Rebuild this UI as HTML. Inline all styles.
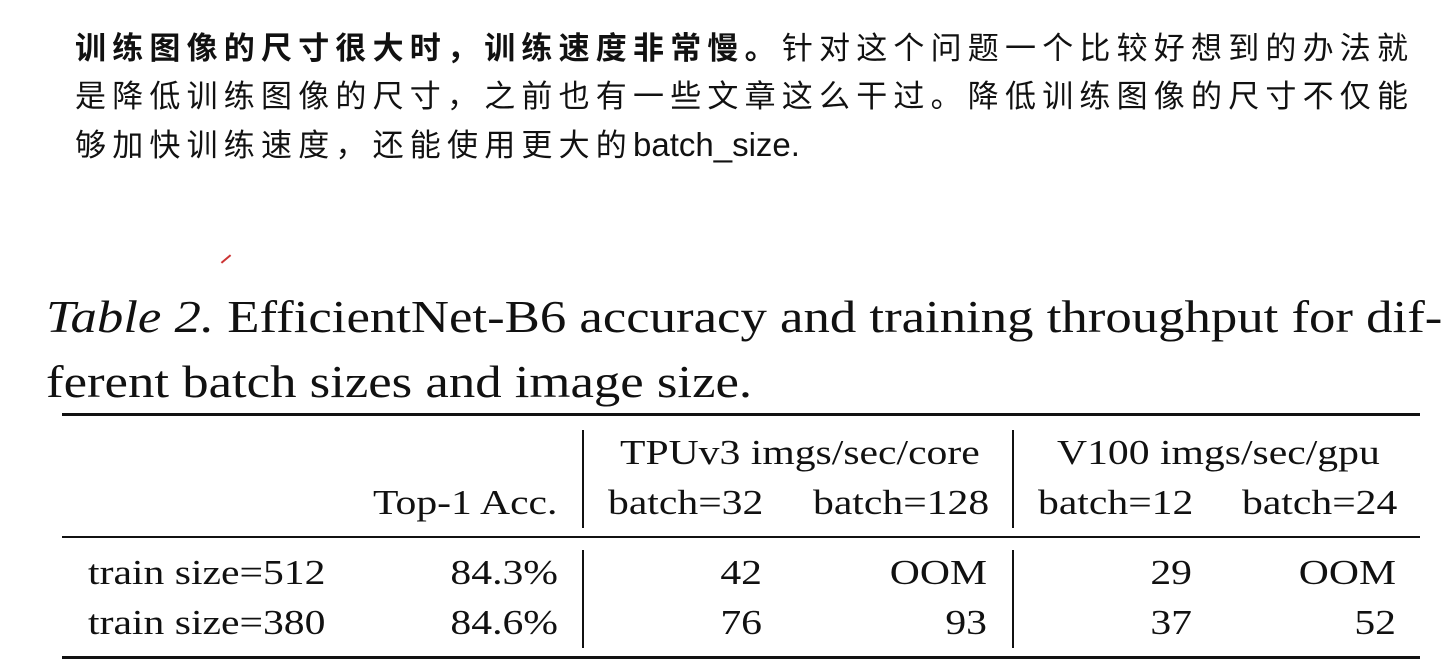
<!DOCTYPE html>
<html><head><meta charset="utf-8"><style>
body{margin:0;width:1449px;height:672px;background:#fff;position:relative;overflow:hidden}
.cn{position:absolute;left:75px;font-family:"Liberation Sans","Noto Sans CJK SC",sans-serif;font-size:31px;letter-spacing:6.2px;color:#111;white-space:nowrap;line-height:1}
.s{position:absolute;font-family:"Liberation Serif",serif;color:#111;white-space:nowrap;line-height:1}
.t{font-size:35px;transform:scaleX(1.19);transform-origin:left}
.r{text-align:right;transform-origin:right}
.hl{position:absolute;background:#111}
</style></head><body>
<div class="cn" style="top:33px"><b>训练图像的尺寸很大时，训练速度非常慢。</b>针对这个问题一个比较好想到的办法就</div>
<div class="cn" style="top:81px">是降低训练图像的尺寸，之前也有一些文章这么干过。降低训练图像的尺寸不仅能</div>
<div class="cn" style="top:128px">够加快训练速度，还能使用更大的<span style="letter-spacing:0;font-size:33px">batch_size.</span></div>
<div style="position:absolute;left:220px;top:258px;width:12px;height:2px;background:#c33;transform:rotate(-40deg)"></div>
<div class="s" style="left:46px;top:294px;font-size:46px;transform:scaleX(1.147);transform-origin:left"><i>Table 2.</i> EfficientNet-B6 accuracy and training throughput for dif-</div>
<div class="s" style="left:46px;top:359px;font-size:46px;transform:scaleX(1.147);transform-origin:left">ferent batch sizes and image size.</div>
<div class="hl" style="left:62px;top:413px;width:1358px;height:3px"></div>
<div class="hl" style="left:62px;top:536px;width:1358px;height:2px"></div>
<div class="hl" style="left:62px;top:656px;width:1358px;height:3px"></div>
<div class="hl" style="left:582px;top:430px;width:2px;height:98px"></div>
<div class="hl" style="left:1012px;top:430px;width:2px;height:98px"></div>
<div class="hl" style="left:582px;top:550px;width:2px;height:98px"></div>
<div class="hl" style="left:1012px;top:550px;width:2px;height:98px"></div>
<div class="s t" style="left:620px;top:435px">TPUv3 imgs/sec/core</div>
<div class="s t" style="left:1057px;top:435px">V100 imgs/sec/gpu</div>
<div class="s t" style="left:373px;top:485px">Top-1 Acc.</div>
<div class="s t" style="left:608px;top:485px">batch=32</div>
<div class="s t" style="left:813px;top:485px">batch=128</div>
<div class="s t" style="left:1038px;top:485px">batch=12</div>
<div class="s t" style="left:1242px;top:485px">batch=24</div>
<div class="s t" style="left:88px;top:555px">train size=512</div>
<div class="s t" style="left:88px;top:605px">train size=380</div>
<div class="s t r" style="left:400px;width:158px;top:555px">84.3%</div>
<div class="s t r" style="left:400px;width:158px;top:605px">84.6%</div>
<div class="s t r" style="left:600px;width:162px;top:555px">42</div>
<div class="s t r" style="left:600px;width:162px;top:605px">76</div>
<div class="s t r" style="left:800px;width:187px;top:555px">OOM</div>
<div class="s t r" style="left:800px;width:187px;top:605px">93</div>
<div class="s t r" style="left:1030px;width:162px;top:555px">29</div>
<div class="s t r" style="left:1030px;width:162px;top:605px">37</div>
<div class="s t r" style="left:1230px;width:166px;top:555px">OOM</div>
<div class="s t r" style="left:1230px;width:166px;top:605px">52</div>
</body></html>
